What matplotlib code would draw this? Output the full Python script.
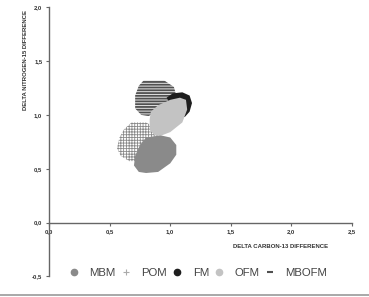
import matplotlib
matplotlib.use("Agg")
import matplotlib.pyplot as plt
from matplotlib.patches import Polygon
from matplotlib.lines import Line2D

plt.rcParams["font.family"] = ["Liberation Sans", "DejaVu Sans"]

# blob outlines (delta C-13, delta N-15)
pom_x = [0.68, 0.80, 0.88, 0.92, 0.88, 0.75, 0.66, 0.59, 0.56, 0.58, 0.62]
pom_y = [0.93, 0.93, 0.88, 0.78, 0.65, 0.57, 0.57, 0.62, 0.69, 0.79, 0.87]
mbofm_x = [0.78, 0.95, 1.03, 1.05, 1.00, 0.88, 0.82, 0.76, 0.71, 0.71, 0.74]
mbofm_y = [1.32, 1.32, 1.26, 1.18, 1.08, 1.02, 0.99, 1.00, 1.06, 1.18, 1.27]
fm_x = [0.97, 1.02, 1.10, 1.16, 1.18, 1.16, 1.12, 1.05]
fm_y = [1.16, 1.20, 1.21, 1.18, 1.11, 1.03, 0.98, 1.00]
ofm_x = [0.84, 0.90, 1.00, 1.08, 1.13, 1.14, 1.10, 1.00, 0.93, 0.87, 0.83, 0.83]
ofm_y = [1.03, 1.09, 1.14, 1.16, 1.14, 1.05, 0.93, 0.84, 0.81, 0.81, 0.86, 0.96]
mbm_x = [0.80, 0.92, 1.00, 1.05, 1.05, 1.00, 0.90, 0.80, 0.74, 0.70, 0.71, 0.75]
mbm_y = [0.79, 0.81, 0.79, 0.72, 0.63, 0.55, 0.47, 0.46, 0.47, 0.53, 0.62, 0.72]

x_ticks = [0.0, 0.5, 1.0, 1.5, 2.0, 2.5]
y_ticks = [-0.5, 0.0, 0.5, 1.0, 1.5, 2.0]
labels = ["MBM", "POM", "FM", "OFM", "MBOFM"]

fig = plt.figure(figsize=(3.69, 2.97), dpi=100)
ax = fig.add_axes([0.1336, 0.0697, 0.8194, 0.9057])
ax.set_xlim(0, 2.5)
ax.set_ylim(-0.5, 2.0)


def blob(xs, ys, face, edge, hatch, hlw, z):
    p = Polygon(list(zip(xs, ys)), closed=True, facecolor=face, edgecolor=edge,
                hatch=hatch, linewidth=0, zorder=z)
    try:
        p.set_hatch_linewidth(hlw)
    except AttributeError:
        pass
    ax.add_patch(p)


with plt.rc_context({"hatch.linewidth": 0.6}):
    blob(pom_x, pom_y, "white", "#8a8a8a", "++++++", 0.6, 1)
with plt.rc_context({"hatch.linewidth": 1.3}):
    blob(mbofm_x, mbofm_y, "#e6e6e6", "#505050", "------", 1.3, 2)
blob(fm_x, fm_y, "#1e1e1e", "#1e1e1e", None, 1, 3)
blob(ofm_x, ofm_y, "#c3c3c3", "#c3c3c3", None, 1, 4)
blob(mbm_x, mbm_y, "#8a8a8a", "#8a8a8a", None, 1, 5)

for s in ["top", "right"]:
    ax.spines[s].set_visible(False)
ax.spines["bottom"].set_position(("data", 0))
ax.spines["left"].set_color("#666666")
ax.spines["bottom"].set_color("#666666")
ax.spines["left"].set_linewidth(1.0)
ax.spines["bottom"].set_linewidth(1.0)

ax.set_xticks(x_ticks)
ax.set_yticks(y_ticks)
ax.set_xticklabels([f"{v:.1f}".replace(".", ",") for v in x_ticks])
ax.set_yticklabels([f"{v:.1f}".replace(".", ",") for v in y_ticks])
ax.tick_params(axis="both", length=2, width=0.8, color="#666666",
               labelsize=4.2, labelcolor="#333333", pad=3)
for t in ax.get_xticklabels() + ax.get_yticklabels():
    t.set_fontweight("bold")

ax.set_xlabel("DELTA CARBON-13 DIFFERENCE", fontsize=4.3, fontweight="bold",
              color="#333333", va="center")
ax.xaxis.set_label_coords(0.765, 0.109)
ax.set_ylabel("DELTA NITROGEN-15 DIFFERENCE", fontsize=4.3, fontweight="bold",
              color="#333333", va="center")
ax.yaxis.set_label_coords(-0.080, 0.804)

handles = [
    Line2D([], [], ls="none", marker="o", ms=4.5, color="#8a8a8a"),
    Line2D([], [], ls="none", marker="+", ms=5, mew=0.8, color="#aaaaaa"),
    Line2D([], [], ls="none", marker="o", ms=4.5, color="#1e1e1e"),
    Line2D([], [], ls="none", marker="o", ms=4.5, color="#c3c3c3"),
    Line2D([], [], ls="none", marker="_", ms=5, mew=1.5, color="#505050"),
]
leg = fig.legend(handles, labels, loc="center", bbox_to_anchor=(0.54, 0.081),
                 ncol=5, frameon=False, fontsize=8.2, handlelength=0.5,
                 handletextpad=1.09, columnspacing=0.67, borderpad=0)
for t in leg.get_texts():
    t.set_color("#444444")

fig.add_artist(Line2D([0, 1], [0.006, 0.006], color="#999999", lw=1.2,
                      transform=fig.transFigure))

fig.savefig("out.png", dpi=100)
